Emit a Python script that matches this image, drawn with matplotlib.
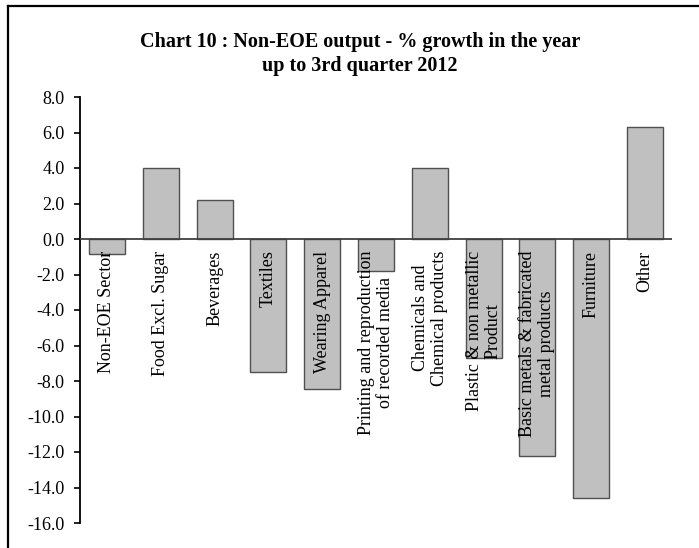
import matplotlib
matplotlib.use("Agg")
import matplotlib.pyplot as plt
from matplotlib.lines import Line2D

categories = [
    "Non-EOE Sector",
    "Food Excl. Sugar",
    "Beverages",
    "Textiles",
    "Wearing Apparel",
    "Printing and reproduction\nof recorded media",
    "Chemicals and\nChemical products",
    "Plastic & non metallic\nProduct",
    "Basic metals & fabricated\nmetal products",
    "Furniture",
    "Other",
]
values = [-0.85, 4.0, 2.2, -7.5, -8.45, -1.8, 4.0, -6.7, -12.2, -14.6, 6.3]
yticks = [8.0, 6.0, 4.0, 2.0, 0.0, -2.0, -4.0, -6.0, -8.0, -10.0, -12.0, -14.0, -16.0]
title = "Chart 10 : Non-EOE output - % growth in the year\nup to 3rd quarter 2012"

plt.rcParams['font.family'] = ['Liberation Serif', 'DejaVu Serif']

fig = plt.figure(figsize=(6.99, 5.48), dpi=100)
ax = fig.add_axes([80/699, 1-523/548, (672-80)/699, (523-97)/548])

x = list(range(len(categories)))
ax.bar(x, values, width=0.67, color='#C0C0C0', edgecolor='#505050', linewidth=1.0, zorder=2)

ax.set_xlim(-0.5, len(categories) - 0.5)
ax.set_ylim(-16, 8)
ax.set_yticks(yticks)
ax.set_yticklabels([f"{v:.1f}" for v in yticks], fontsize=13)
ax.tick_params(axis='y', direction='out', length=4, width=1.2, pad=7)
ax.set_xticks([])

for s in ['top', 'right', 'bottom']:
    ax.spines[s].set_visible(False)
ax.spines['left'].set_linewidth(1.3)
ax.axhline(0, color='#404040', linewidth=1.3, zorder=3)

for xi, lab in zip(x, categories):
    ax.text(xi, -0.65, lab, rotation=90, ha='center', va='top',
            multialignment='center', fontsize=13, zorder=4, linespacing=1.15)

fig.text(360/699, 1-54/548, title, ha='center', va='center',
         fontsize=14.5, fontweight='bold', linespacing=1.2)

# outer frame
fig.add_artist(Line2D([8/699, 8/699], [0, 1-6/548], transform=fig.transFigure,
                      color='black', linewidth=1.6))
fig.add_artist(Line2D([8/699, 1], [1-6/548, 1-6/548], transform=fig.transFigure,
                      color='black', linewidth=1.6))

fig.savefig("out.png", dpi=100)
